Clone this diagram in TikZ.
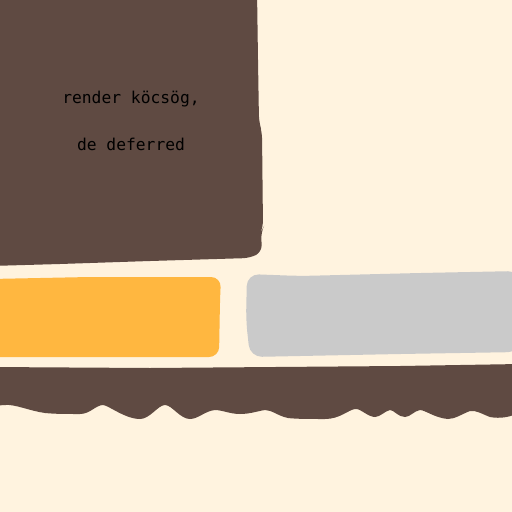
\documentclass[tikz,border=0pt]{standalone}
\usepackage{fontspec}
\setmonofont{DejaVu Sans Mono}
\definecolor{cream}{HTML}{FFF3DF}
\definecolor{brownish}{HTML}{5F4A42}
\definecolor{orangey}{HTML}{FFB740}
\definecolor{greyish}{HTML}{CACACA}
\begin{document}
\begin{tikzpicture}[x=1pt,y=-1pt,
  blob/.style={line join=round},
  label/.style={font=\ttfamily\fontsize{16.3}{19}\selectfont, text=black, inner sep=0pt}]
\useasboundingbox (0,0) rectangle (512,512);
\fill[cream] (0,0) rectangle (512,512);
% top brown block
\fill[brownish, rounded corners=7pt] (-10,-10) -- (257,-10) -- (258,60) -- (259,122) -- (262,132) -- (263,228) -- (261,232) -- (262,252) -- (250,258) -- (150,261) -- (60,264) -- (-10,266) -- cycle;
% orange block
\fill[orangey, rounded corners=10pt] (-10,279) -- (90,277) -- (221,277) -- (220,300) -- (219,357) -- (180,357) -- (-10,357) -- cycle;
% grey block
\fill[greyish, rounded corners=12pt] (247,274) -- (300,276) -- (420,273) -- (520,271) -- (520,352) -- (400,354) -- (250,357) -- (246,320) -- cycle;
% bottom brown band
\fill[brownish] (-10,367) -- (150,368) -- (400,366) -- (520,364) -- (520,412)
  .. controls (512,417) and (500,419) .. (490,417)
  .. controls (482,414) and (476,410) .. (470,411)
  .. controls (462,414) and (455,419) .. (448,419)
  .. controls (435,418) and (425,410) .. (420,410)
  .. controls (414,411) and (410,417) .. (405,417)
  .. controls (398,417) and (394,410) .. (390,410)
  .. controls (385,411) and (380,417) .. (375,417)
  .. controls (368,417) and (360,408) .. (355,409)
  .. controls (348,410) and (340,419) .. (325,419)
  .. controls (310,419) and (296,419) .. (288,418)
  .. controls (278,416) and (272,410) .. (265,410)
  .. controls (258,411) and (250,414) .. (240,414)
  .. controls (230,414) and (222,410) .. (215,410)
  .. controls (205,411) and (198,419) .. (190,419)
  .. controls (180,419) and (172,405) .. (165,405)
  .. controls (158,405) and (150,419) .. (140,419)
  .. controls (125,419) and (108,405) .. (103,405)
  .. controls (96,405) and (90,414) .. (80,414)
  .. controls (65,414) and (55,414) .. (45,413)
  .. controls (30,411) and (15,404) .. (5,405)
  -- (-10,406) -- cycle;
% text
\node[label] (t1) at (131,99) {render köcsög,};
\node[label] (t2) at (131,144) {de deferred};
\end{tikzpicture}
\end{document}
